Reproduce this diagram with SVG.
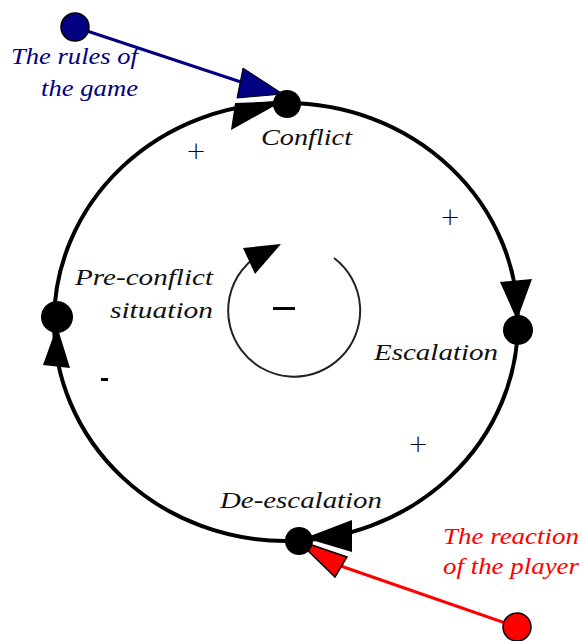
<svg xmlns="http://www.w3.org/2000/svg" width="584" height="641" viewBox="0 0 584 641">
<style>
.lbl{font-family:"Liberation Serif","DejaVu Serif",serif;font-style:italic;font-size:23px;fill:#111}
.sign{font-family:"DejaVu Sans","Liberation Sans",sans-serif;font-size:24px;fill:#000}
.blue{fill:#000080}
.red{fill:#ff0000}
.loop{fill:none;stroke:#000;stroke-width:4}
</style>
<rect width="584" height="641" fill="#fff"/>
<g id="connectors">
  <ellipse class="loop" cx="286" cy="322" rx="232" ry="219"/>
  <line x1="75" y1="27" x2="250" y2="85" stroke="#000080" stroke-width="3"/>
  <line x1="517" y1="627" x2="335" y2="564" stroke="#ff0000" stroke-width="3"/>
  <path d="M 334 258 A 66 66 0 1 1 262 253" fill="none" stroke="#222" stroke-width="2"/>
  <polygon points="243,248 281,244 255,274" fill="#000"/>
  <polygon points="235,103 231,130 283,101" fill="#000"/>
  <polygon points="500,282 532,279 517,320" fill="#000"/>
  <polygon points="352,520 352,552 305,538" fill="#000"/>
  <polygon points="57,326 43,365 70,368" fill="#000"/>
  <polygon points="243,68 237,98 283,94" fill="#000080" stroke="#000" stroke-width="1"/>
  <polygon points="297,540 335,577 347,557" fill="#ff0000" stroke="#000" stroke-width="1.5"/>
</g>
<g id="rules">
  <circle cx="75" cy="27" r="14" fill="#000080" stroke="#000" stroke-width="1.5"/>
  <text class="lbl blue" x="138" y="64" text-anchor="end" font-size="22" textLength="127" lengthAdjust="spacingAndGlyphs">The rules of</text>
  <text class="lbl blue" x="138" y="96" text-anchor="end" font-size="22" textLength="97" lengthAdjust="spacingAndGlyphs">the game</text>
</g>
<g id="conflict">
  <circle cx="287" cy="104" r="14" fill="#000"/>
  <text class="lbl" x="261" y="145" textLength="91" lengthAdjust="spacingAndGlyphs">Conflict</text>
</g>
<g id="escalation">
  <circle cx="518" cy="330" r="15" fill="#000"/>
  <text class="lbl" x="374" y="360" textLength="124" lengthAdjust="spacingAndGlyphs">Escalation</text>
</g>
<g id="deescalation">
  <circle cx="299" cy="541" r="14" fill="#000"/>
  <text class="lbl" x="220" y="508" textLength="162" lengthAdjust="spacingAndGlyphs">De-escalation</text>
</g>
<g id="preconflict">
  <circle cx="57" cy="317" r="16" fill="#000"/>
  <text class="lbl" x="213" y="285" text-anchor="end" textLength="138" lengthAdjust="spacingAndGlyphs">Pre-conflict</text>
  <text class="lbl" x="213" y="318" text-anchor="end" textLength="103" lengthAdjust="spacingAndGlyphs">situation</text>
</g>
<g id="reaction">
  <circle cx="517" cy="627" r="14" fill="#ff0000" stroke="#000" stroke-width="1.5"/>
  <text class="lbl red" x="443" y="544" font-size="21" textLength="136" lengthAdjust="spacingAndGlyphs">The reaction</text>
  <text class="lbl red" x="443" y="574" font-size="21" textLength="136" lengthAdjust="spacingAndGlyphs">of the player</text>
</g>
<g id="signs">
  <text class="sign" x="196" y="159" text-anchor="middle" font-weight="300">+</text>
  <text class="sign" x="450" y="225" text-anchor="middle" font-weight="300">+</text>
  <text class="sign" x="418" y="452" text-anchor="middle" font-weight="300">+</text>
  <rect x="101" y="378" width="7" height="3" fill="#000"/>
  <rect x="273" y="307" width="22" height="3" fill="#000"/>
</g>
</svg>
